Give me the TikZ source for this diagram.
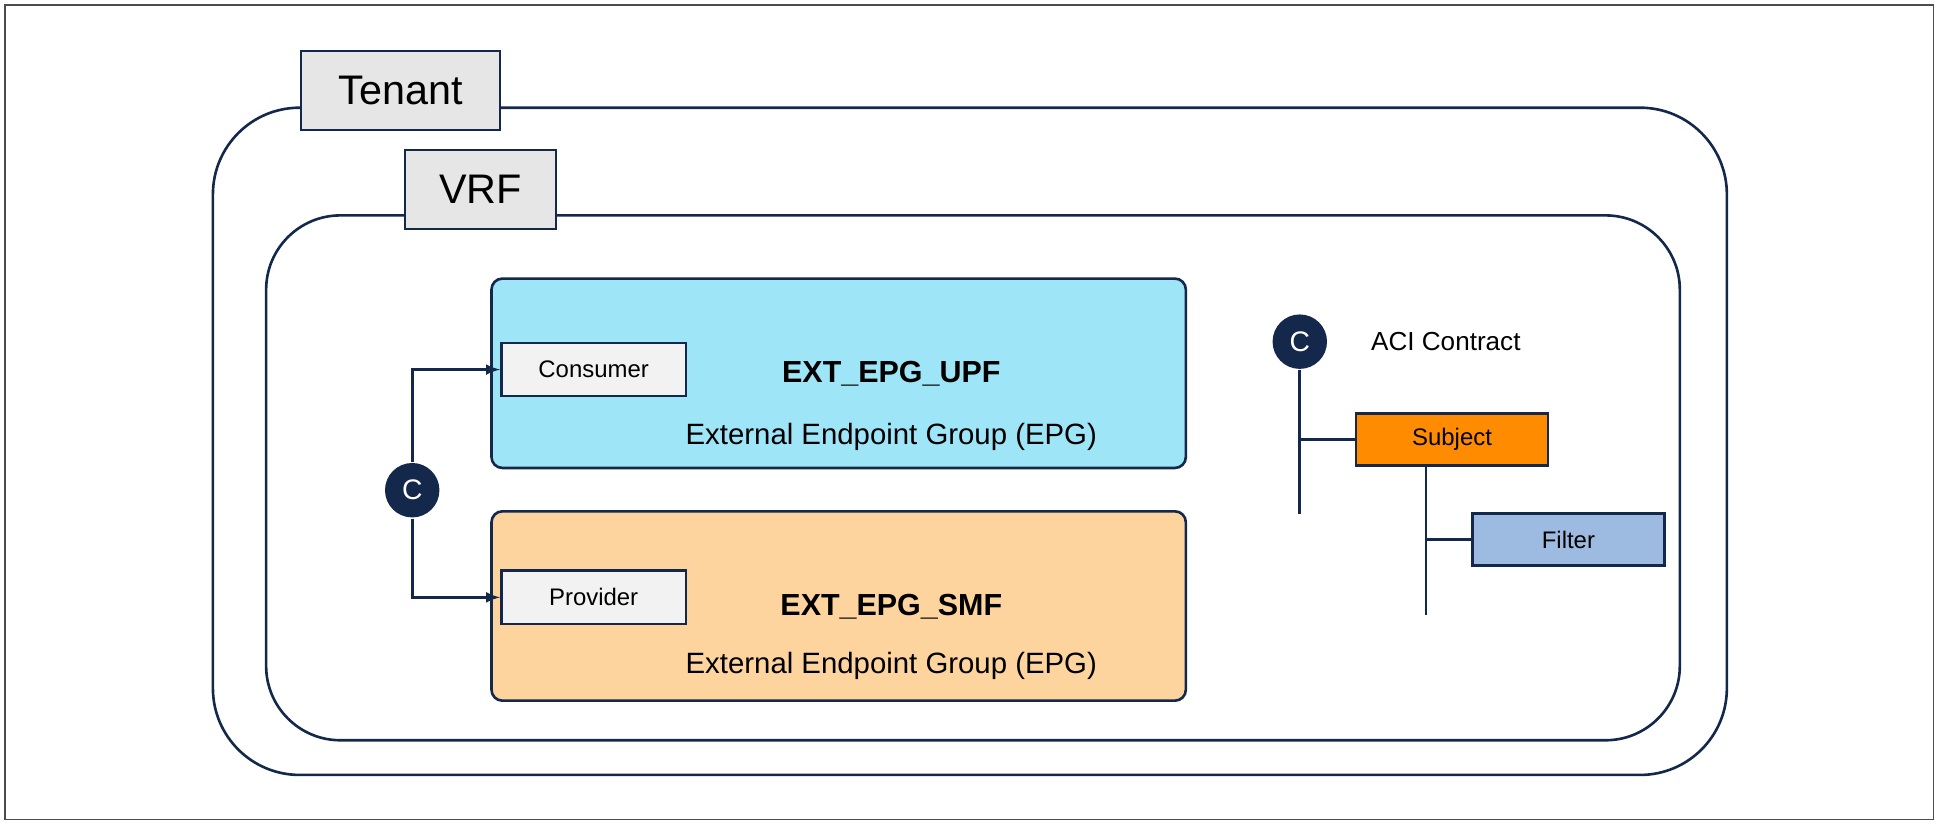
\documentclass[tikz,border=0pt]{standalone}
\usepackage{fontspec}
\setmainfont{Liberation Sans}
\definecolor{navy}{HTML}{13284A}
\definecolor{labelgray}{HTML}{E6E6E6}
\definecolor{epgblue}{HTML}{9EE5F8}
\definecolor{epgorange}{HTML}{FDD49E}
\definecolor{subj}{HTML}{FF8C00}
\definecolor{filt}{HTML}{9DBBE0}
\tikzstyle{lbl} = [rectangle, draw=navy, line width=1.2pt, fill=labelgray, font=\fontsize{19}{22}\selectfont, anchor=north west, inner sep=0pt]
\tikzstyle{role} = [rectangle, draw=navy, line width=1.2pt, fill=white!95!black, font=\fontsize{11}{13}\selectfont, minimum width=2.98cm, minimum height=0.86cm, anchor=north west, inner sep=0pt]
\tikzstyle{epg} = [rectangle, rounded corners=5pt, draw=navy, line width=1.2pt, minimum width=11.22cm, minimum height=3.06cm, anchor=north west]
\tikzstyle{cnode} = [circle, fill=navy, text=white, minimum size=0.88cm, inner sep=0pt, font=\fontsize{13}{15}\selectfont]
\tikzstyle{item} = [rectangle, draw=navy, line width=1.2pt, minimum width=3.1cm, minimum height=0.84cm, font=\fontsize{11}{13}\selectfont, inner sep=0pt]

\begin{document}
\begin{tikzpicture}[x=0.02cm, y=-0.02cm, line width=1.2pt]
            \draw [black!70, line width=0.6pt] (4,4) rectangle (1562,662);
            \useasboundingbox (0,0) rectangle (1568,666);
            % tenant and vrf
            \draw [navy, rounded corners=1.4cm] (172,87) rectangle (1395,626);
            \node (tenant) [lbl, minimum width=3.22cm, minimum height=1.28cm] at (242,40) {Tenant};
            \draw [navy, rounded corners=1.2cm] (215,174) rectangle (1357,598);
            \node (vrf) [lbl, minimum width=2.44cm, minimum height=1.28cm] at (326,120) {VRF};
            % endpoint groups
            \node (upf) [epg, fill=epgblue] at (396,224) {};
            \node (smf) [epg, fill=epgorange] at (396,412) {};
            \node (cons) [role] at (404,276) {Consumer};
            \node (prov) [role] at (404,460) {Provider};
            \node [font=\fontsize{14}{16}\selectfont\bfseries] at (720,302) {EXT\_EPG\_UPF};
            \node [font=\fontsize{13.5}{16}\selectfont] at (720,353) {External Endpoint Group (EPG)};
            \node [font=\fontsize{14}{16}\selectfont\bfseries] at (720,490) {EXT\_EPG\_SMF};
            \node [font=\fontsize{13.5}{16}\selectfont] at (720,538) {External Endpoint Group (EPG)};
            \node (c1) [cnode] at (333,396) {C};
            \draw [navy, -latex] (c1) |- (cons);
            \draw [navy, -latex] (c1) |- (prov);
            % contract
            \node (c2) [cnode] at (1050,276) {C};
            \node [font=\fontsize{12}{14}\selectfont] at (1168,276) {ACI Contract};
            \node (subject) [item, fill=subj] at (1173,355) {Subject};
            \node (filter) [item, fill=filt] at (1267,436) {Filter};
            \coordinate (cend) at (1050,415);
            \coordinate (send) at (1152,497);
            \draw [navy] (c2) -- (cend);
            \draw [navy] (1050,355) -- (subject);
            \draw [navy] (subject.south -| send) -- (send);
            \draw [navy] (1152,436) -- (filter);
        \end{tikzpicture}
\end{document}
